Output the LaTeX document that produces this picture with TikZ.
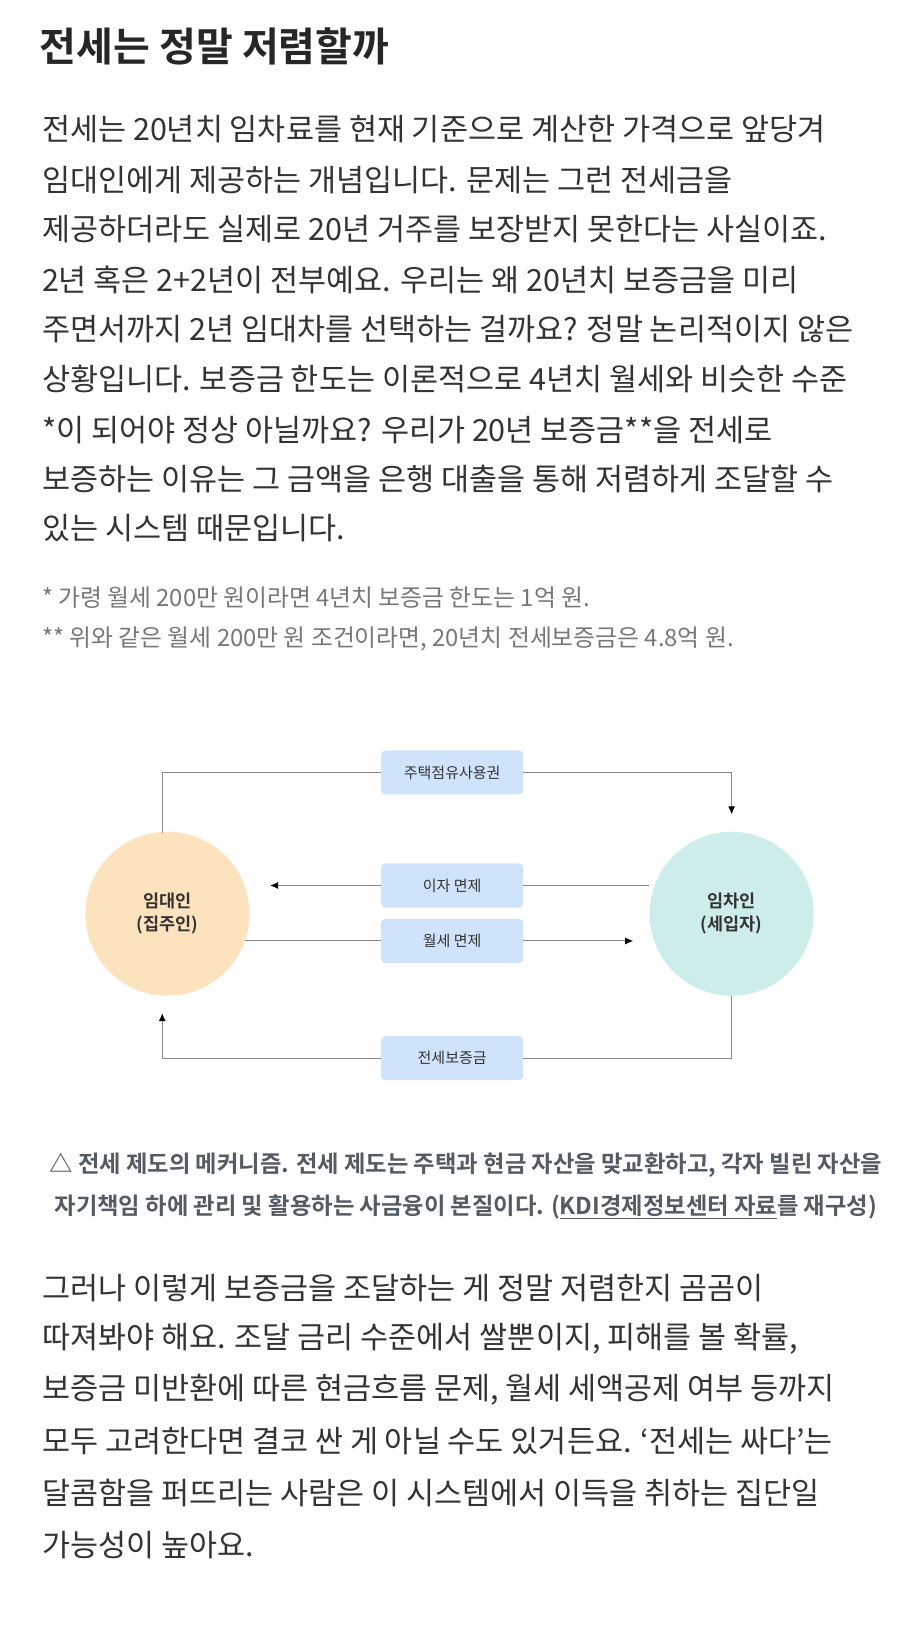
\documentclass[tikz,border=0pt]{standalone}
\usepackage{fontspec}
\usetikzlibrary{arrows.meta}
\setmainfont{Noto Sans CJK KR}
\newfontfamily\krbold{Noto Sans CJK KR Bold}
\definecolor{bodyc}{HTML}{333333}
\definecolor{grayc}{HTML}{777777}
\definecolor{capc}{HTML}{555B63}
\definecolor{linec}{HTML}{888888}
\definecolor{boxc}{HTML}{CFE4FA}
\definecolor{landc}{HTML}{FDE2BE}
\definecolor{tenc}{HTML}{CDEDEB}
\begin{document}
\begin{tikzpicture}[x=1.0465pt,y=-1.0465pt,
  body/.style={anchor=west,inner sep=0pt,font=\fontsize{30.5}{30}\selectfont,text=bodyc},
  note/.style={anchor=west,inner sep=0pt,font=\fontsize{23.8}{23}\selectfont,text=grayc},
  captxt/.style={inner sep=0pt,font=\krbold\fontsize{23.3}{23}\selectfont,text=capc},
  lbl/.style={fill=boxc,rounded corners=4pt,minimum width=142pt,minimum height=44pt,inner sep=0pt,font=\fontsize{15}{15}\selectfont,text=bodyc},
  party/.style={circle,minimum size=164pt,inner sep=0pt,font=\krbold\fontsize{17.5}{23}\selectfont,text=bodyc,align=center},
  conn/.style={draw=linec,line width=1pt},
  arr/.style={conn,-{Latex[length=8pt,width=7pt,color=black]}}]
\useasboundingbox (0,0) rectangle (860,1564);
\node[anchor=west,inner sep=0pt,font=\krbold\fontsize{40}{40}\selectfont,text=black!85] (title) at (38,44) {전세는 정말 저렴할까};
\node[body] (b1) at (40,123) {전세는 20년치 임차료를 현재 기준으로 계산한 가격으로 앞당겨};
\node[body] (b2) at (40,172) {임대인에게 제공하는 개념입니다. 문제는 그런 전세금을};
\node[body] (b3) at (40,219) {제공하더라도 실제로 20년 거주를 보장받지 못한다는 사실이죠.};
\node[body] (b4) at (40,267) {2년 혹은 2+2년이 전부예요. 우리는 왜 20년치 보증금을 미리};
\node[body] (b5) at (40,314) {주면서까지 2년 임대차를 선택하는 걸까요? 정말 논리적이지 않은};
\node[body] (b6) at (40,362) {상황입니다. 보증금 한도는 이론적으로 4년치 월세와 비슷한 수준};
\node[body] (b7) at (40,411) {*이 되어야 정상 아닐까요? 우리가 20년 보증금**을 전세로};
\node[body] (b8) at (40,458) {보증하는 이유는 그 금액을 은행 대출을 통해 저렴하게 조달할 수};
\node[body] (b9) at (40,505) {있는 시스템 때문입니다.};
\node[note] (n1) at (40,571) {* 가령 월세 200만 원이라면 4년치 보증금 한도는 1억 원.};
\node[note] (n2) at (40,610) {** 위와 같은 월세 200만 원 조건이라면, 20년치 전세보증금은 4.8억 원.};

\node[party,fill=landc] (land) at (160,873) {임대인\\(집주인)};
\node[party,fill=tenc] (ten) at (699,873) {임차인\\(세입자)};
\node[lbl] (occ) at (432,738) {주택점유사용권};
\node[lbl] (int) at (432,846) {이자 면제};
\node[lbl] (rent) at (432,899) {월세 면제};
\node[lbl] (dep) at (432,1011) {전세보증금};
\coordinate (occL) at (155,738); \coordinate (occR) at (699,738); \coordinate (occE) at (699,778);
\coordinate (intE) at (258,846); \coordinate (rentE) at (605,899);
\coordinate (depR) at (699,1011); \coordinate (depL) at (155,1011); \coordinate (depE) at (155,968);
\draw[conn] (155,796) -- (occL) -- (occ.west);
\draw[arr] (occ.east) -- (occR) -- (occE);
\draw[conn] (ten.west |- int.east) -- (int.east);
\draw[arr] (int.west) -- (intE);
\draw[conn] (234,899) -- (rent.west);
\draw[arr] (rent.east) -- (rentE);
\draw[conn] (ten.south) -- (depR) -- (dep.east);
\draw[arr] (dep.west) -- (depL) -- (depE);

\node[captxt] (c1) at (445,1113) {△ 전세 제도의 메커니즘. 전세 제도는 주택과 현금 자산을 맞교환하고, 각자 빌린 자산을};
\node[captxt] (c2) at (445,1153) {자기책임 하에 관리 및 활용하는 사금융이 본질이다. (\underline{KDI경제정보센터 자료}를 재구성)};

\node[body] (d1) at (40,1231) {그러나 이렇게 보증금을 조달하는 게 정말 저렴한지 곰곰이};
\node[body] (d2) at (40,1279) {따져봐야 해요. 조달 금리 수준에서 쌀뿐이지, 피해를 볼 확률,};
\node[body] (d3) at (40,1328) {보증금 미반환에 따른 현금흐름 문제, 월세 세액공제 여부 등까지};
\node[body] (d4) at (40,1377) {모두 고려한다면 결코 싼 게 아닐 수도 있거든요. ‘전세는 싸다’는};
\node[body] (d5) at (40,1426) {달콤함을 퍼뜨리는 사람은 이 시스템에서 이득을 취하는 집단일};
\node[body] (d6) at (40,1476) {가능성이 높아요.};
\end{tikzpicture}
\end{document}
